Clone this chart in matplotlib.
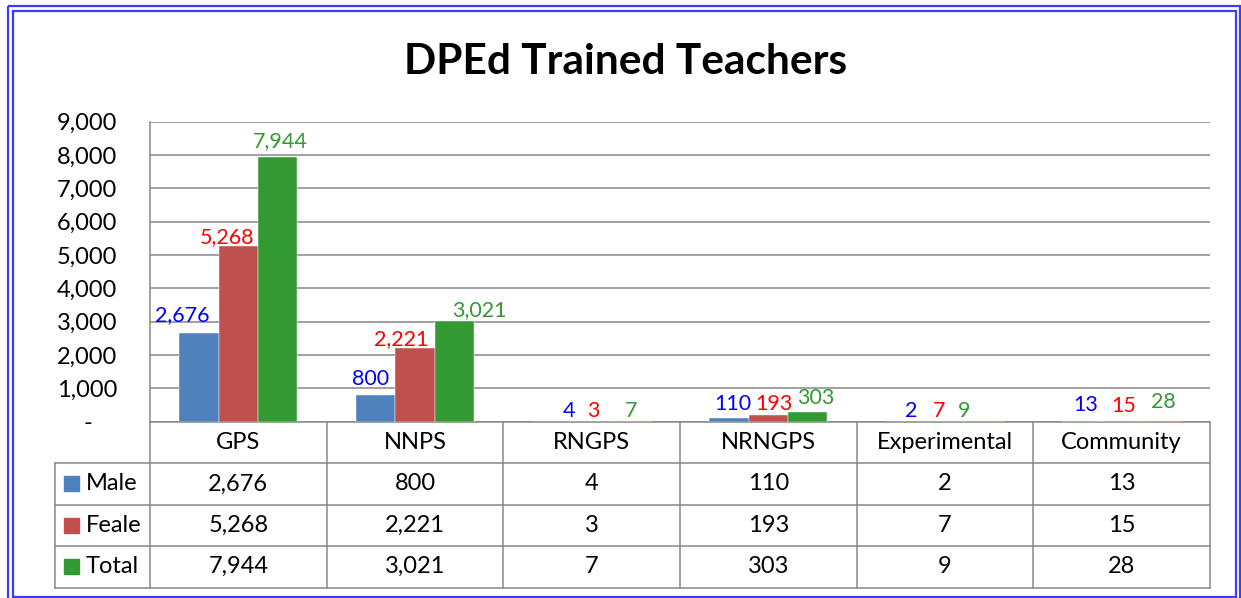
import numpy as np
import matplotlib.pyplot as plt
from matplotlib.patches import Rectangle

plt.rcParams['font.family'] = ['Lato', 'DejaVu Sans']

categories = ['GPS', 'NNPS', 'RNGPS', 'NRNGPS', 'Experimental', 'Community']
series_names = ['Male', 'Feale', 'Total']
male = [2676, 800, 4, 110, 2, 13]
female = [5268, 2221, 3, 193, 7, 15]
total = [7944, 3021, 7, 303, 9, 28]
title = 'DPEd Trained Teachers'

bar_colors = ['#4F81BD', '#C0504D', '#339933']
label_colors = ['#0000FF', '#FF0000', '#339933']

# hand placed label nudges in the original (pixels: dx, gap above bar)
label_dx = [[-17, -5, 17, 4, 5, 3],
            [-11, -14, 2, 6, -6, 2],
            [3, 25, 0, 8, -20, 2]]
label_gap = [[11, 10, 4.6, 8, 4.6, 10],
             [3, 3, 4.6, 5.3, 4.6, 9],
             [10, 5, 4.6, 7.6, 4.6, 12.8]]

W, H = 1241, 598
PT = 0.72  # points per pixel at dpi 100
grid_col = '#888888'


def fx(px):
    return px / W


def fy(py):
    return 1 - py / H


fig = plt.figure(figsize=(W / 100, H / 100), dpi=100)

# blue double frame
bg = fig.add_axes([0, 0, 1, 1], zorder=-1)
bg.set_xlim(0, W)
bg.set_ylim(H, 0)
bg.axis('off')
bg.add_patch(Rectangle((7.5, 6), 1232, 600, fill=False, ec='#3C3CFF', lw=1.6))
bg.add_patch(Rectangle((12.5, 11), 1223, 586, fill=False, ec='#3C3CFF', lw=1.6))

# bar chart
left, right, top, bottom = 150, 1210, 121.7, 421.7
ax = fig.add_axes([fx(left), fy(bottom), fx(right - left), (bottom - top) / H])
x = np.arange(len(categories))
w = 0.2225
data = [male, female, total]
for i, vals in enumerate(data):
    pos = x + (i - 1) * w
    ax.bar(pos, vals, w, color=bar_colors[i], edgecolor='white', linewidth=0.3, zorder=3)
    for j, v in enumerate(vals):
        ax.annotate(f'{v:,}', (pos[j], v), xytext=(label_dx[i][j] * PT, label_gap[i][j] * PT),
                    textcoords='offset points', ha='center', va='baseline',
                    fontsize=15.5, color=label_colors[i], zorder=4)

ax.set_xlim(-0.5, len(categories) - 0.5)
ax.set_ylim(0, 9000)
ax.set_yticks(range(0, 9001, 1000))
ax.set_yticklabels([f'{t:,}' if t else '-    ' for t in range(0, 9001, 1000)])
ax.set_xticks([])
ax.tick_params(axis='y', length=0, pad=33 * PT, labelsize=17)
ax.yaxis.grid(True, color=grid_col, lw=1.1, zorder=0)
for s in ['top', 'right']:
    ax.spines[s].set_visible(False)
for s in ['left', 'bottom']:
    ax.spines[s].set_color(grid_col)
    ax.spines[s].set_linewidth(1.1)

fig.text(fx(625.5), fy(74), title, ha='center', va='baseline',
         fontsize=30.5, fontweight='bold')

# data table under the bars
tbl_bottom = 587.5
tb = fig.add_axes([fx(left), fy(tbl_bottom), fx(right - left), (tbl_bottom - bottom) / H])
tb.set_xlim(-0.5, len(categories) - 0.5)
tb.set_ylim(4, 0)
tb.axis('off')
unit = (right - left) / len(categories)
x_left = -0.5 - (left - 55) / unit
line_kw = dict(color=grid_col, lw=1.1, clip_on=False)
for r in range(1, 5):
    tb.plot([x_left, len(categories) - 0.5], [r, r], **line_kw)
for c in range(len(categories) + 1):
    tb.plot([c - 0.5, c - 0.5], [0, 4], **line_kw)
tb.plot([x_left, x_left], [1, 4], **line_kw)

for j, cat in enumerate(categories):
    tb.text(j, 0.5, cat, ha='center', va='center', fontsize=17)
key = 15 / unit
for i, (name, vals) in enumerate(zip(series_names, data)):
    row = i + 1.5
    tb.add_patch(Rectangle((x_left + 9 / unit, row - 0.18), key, 0.36,
                           color=bar_colors[i], clip_on=False))
    tb.text(x_left + 31 / unit, row, name, ha='left', va='center', fontsize=17)
    for j, v in enumerate(vals):
        tb.text(j, row, f'{v:,}', ha='center', va='center', fontsize=17)

fig.savefig('out.png', dpi=100)
